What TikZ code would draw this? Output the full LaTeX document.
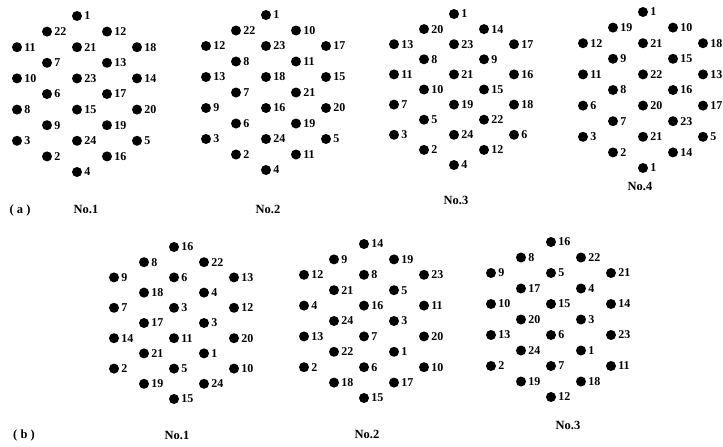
\documentclass[tikz,border=0pt]{standalone}
\usepackage{fontspec}
\setmainfont{Liberation Serif}
\usetikzlibrary{positioning}

\tikzset{
  hole/.style={circle, fill=black, inner sep=0pt, minimum size=10pt},
  holenum/.style={inner sep=0.5pt, font=\fontsize{12}{12}\selectfont\bfseries},
  platename/.style={inner sep=1pt, font=\fontsize{12.5}{12.5}\selectfont\bfseries}
}

% hole positions of one plate: column and row of each of the 24 holes
\def\holecols{{0,-1,1,-2,0,2,-1,1,-2,0,2,-1,1,-2,0,2,-1,1,-2,0,2,-1,1,0}}
\def\holerows{{0,1,1,2,2,2,3,3,4,4,4,5,5,6,6,6,7,7,8,8,8,9,9,10}}
\newcommand{\holeplate}[5]{%
  \foreach \lab [count=\i from 0] in {#5} {
    \pgfmathsetmacro\hc{\holecols[\i]}
    \pgfmathsetmacro\hr{\holerows[\i]}
    \node[hole] (#1-\i) at ({#2+30*\hc},{#3+#4*\hr}) {};
    \node[holenum, right=1.5pt of #1-\i] (#1-\i-n) {\lab};
  }}

\begin{document}
\begin{tikzpicture}[x=1pt, y=-1pt]
  \useasboundingbox (0,0) rectangle (723,447);

  % (a)
  \holeplate{aone}{77}{16}{15.6}{1,22,12,11,21,18,7,13,10,23,14,6,17,8,15,20,9,19,3,24,5,2,16,4}
  \holeplate{atwo}{266}{15}{15.5}{1,22,10,12,23,17,8,11,13,18,15,7,21,9,16,20,6,19,3,24,5,2,11,4}
  \holeplate{athree}{454}{14}{15.1}{1,20,14,13,23,17,8,9,11,21,16,10,15,7,19,18,5,22,3,24,6,2,12,4}
  \holeplate{afour}{643}{12}{15.6}{1,19,10,12,21,18,9,15,11,22,13,8,16,6,20,17,7,23,3,21,5,2,14,1}

  \node[platename] (acap) at (20,210) {( a )};
  \node[platename] (aone-name) at (86,209) {No.1};
  \node[platename] (atwo-name) at (268,209) {No.2};
  \node[platename] (athree-name) at (456,200) {No.3};
  \node[platename] (afour-name) at (640,186) {No.4};

  % (b)
  \holeplate{bone}{174}{247}{15.2}{16,8,22,9,6,13,18,4,7,3,12,17,3,14,11,20,21,1,2,5,10,19,24,15}
  \holeplate{btwo}{364}{244}{15.4}{14,9,19,12,8,23,21,5,4,16,11,24,3,13,7,20,22,1,2,6,10,18,17,15}
  \holeplate{bthree}{551}{242}{15.5}{16,8,22,9,5,21,17,4,10,15,14,20,3,13,6,23,24,1,2,7,11,19,18,12}

  \node[platename] (bcap) at (24,435) {( b )};
  \node[platename] (bone-name) at (177,435) {No.1};
  \node[platename] (btwo-name) at (367,434) {No.2};
  \node[platename] (bthree-name) at (568,425) {No.3};
\end{tikzpicture}
\end{document}
